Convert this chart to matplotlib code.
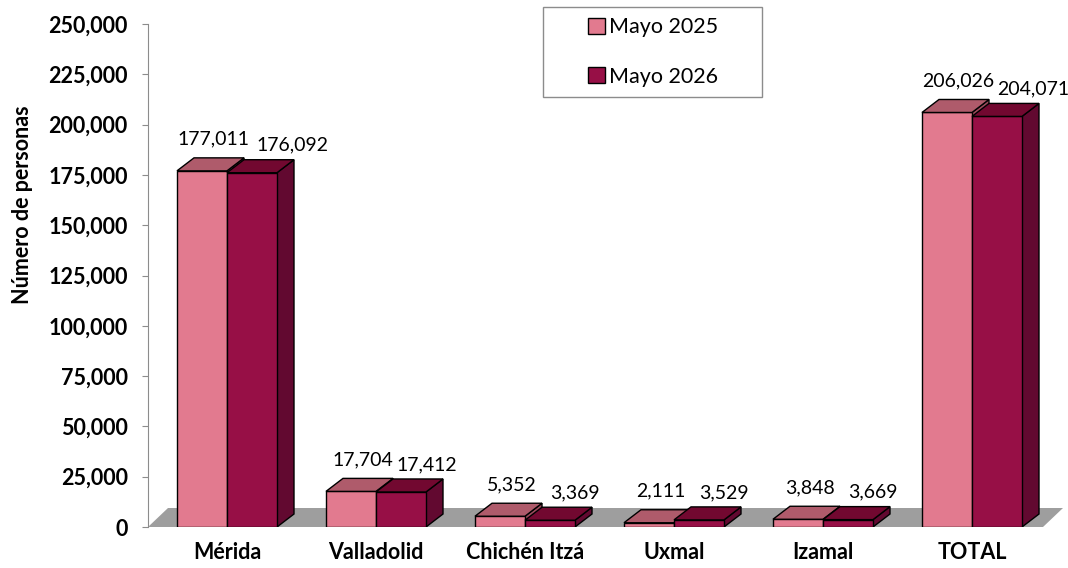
import matplotlib
matplotlib.use("Agg")
import matplotlib.pyplot as plt
from matplotlib.patches import Polygon, Patch, Rectangle
from matplotlib.ticker import FuncFormatter

# ----------------------------------------------------------------------
# Datos
# ----------------------------------------------------------------------
categorias = ["Mérida", "Valladolid", "Chichén Itzá", "Uxmal", "Izamal", "TOTAL"]
mayo_2025 = [177011, 17704, 5352, 2111, 3848, 206026]
mayo_2026 = [176092, 17412, 3369, 3529, 3669, 204071]
series = ["Mayo 2025", "Mayo 2026"]
yticks = list(range(0, 250001, 25000))

# colores (frente, tapa, lado)
COL_2025 = ("#E27A8F", "#AF5B6B", "#9C4A5C")
COL_2026 = ("#970F46", "#720830", "#620930")
COL_PISO = "#9E9E9E"

plt.rcParams["font.family"] = ["Lato", "DejaVu Sans"]

W, H = 1068, 568
fig = plt.figure(figsize=(W / 100, H / 100), dpi=100)
ax = fig.add_axes([148 / W, 1 - 527 / H, (W - 148) / W, (527 - 24) / H])

ppu_x = 149.0                     # px por categoría
ymax = 250000
ppu_y = (527 - 24) / ymax         # px por unidad
xmin, xmax = -79 / ppu_x, (W - 227) / ppu_x
ax.set_xlim(xmin, xmax)
ax.set_ylim(0, ymax)

w = 50 / ppu_x                    # ancho de cada barra
dx = 17 / ppu_x                   # profundidad 3D
dy = 13 / ppu_y

# piso gris
fdx, fdy = 20 / ppu_x, 19 / ppu_y
x0, x1 = xmin, (1043 - 227) / ppu_x
ax.add_patch(Polygon([(x0, 0), (x1, 0), (x1 + fdx, fdy), (x0 + fdx, fdy)],
                     closed=True, facecolor=COL_PISO, edgecolor="none", zorder=1))


def caja(xl, h, cols, z):
    front, top, side = cols
    ax.add_patch(Polygon([(xl + w, 0), (xl + w + dx, dy), (xl + w + dx, h + dy), (xl + w, h)],
                         closed=True, facecolor=side, edgecolor="black", lw=1.0, zorder=z))
    ax.bar(xl, h, width=w, align="edge", color=front, edgecolor="black", lw=1.0, zorder=z + 0.1)
    ax.add_patch(Polygon([(xl, h), (xl + w, h), (xl + w + dx, h + dy), (xl + dx, h + dy)],
                         closed=True, facecolor=top, edgecolor="black", lw=1.0, zorder=z + 0.2))


for i, (a, b) in enumerate(zip(mayo_2025, mayo_2026)):
    caja(i - w, a, COL_2025, 2)
    caja(i, b, COL_2026, 3)
    ax.annotate(f"{a:,}", (i - w / 2 + dx / 2, a + dy), xytext=(3, 10),
                textcoords="offset pixels", ha="center", va="bottom", fontsize=14, zorder=5)
    # etiqueta 2026 algo desplazada a la derecha (más cuanto más alta la barra)
    xb = i + w / 2 + dx / 2 + (16 + 23 * b / ymax) / ppu_x
    xb = min(xb, xmax - 35 / ppu_x)
    ax.annotate(f"{b:,}", (xb, b + dy), xytext=(0, 6),
                textcoords="offset pixels", ha="center", va="bottom", fontsize=14, zorder=5)

# ejes
for s in ["top", "right", "bottom"]:
    ax.spines[s].set_visible(False)
ax.spines["left"].set_color("#8C8C8C")
ax.set_yticks(yticks)
ax.yaxis.set_major_formatter(FuncFormatter(lambda v, p: f"{int(v):,}"))
ax.tick_params(axis="y", direction="out", length=4.5, color="#8C8C8C", pad=10,
               labelsize=15.5, labelcolor="black")
for t in ax.get_yticklabels():
    t.set_fontweight("bold")
ax.set_xticks(range(len(categorias)))
ax.set_xticklabels(categorias, fontsize=15.5, fontweight="bold")
ax.tick_params(axis="x", length=0, pad=11)
ax.set_ylabel("Número de personas", fontsize=15.5, fontweight="bold")
ax.yaxis.set_label_coords(-(148 - 33) / (W - 148), (527 - 205) / (527 - 24))

# leyenda
fig.patches.append(Rectangle((543 / W, 1 - 97 / H), (762 - 543) / W, 90 / H,
                             transform=fig.transFigure, facecolor="white",
                             edgecolor="#8C8C8C", lw=1.0, zorder=10))
handles = [Patch(facecolor=COL_2025[0], edgecolor="black"),
           Patch(facecolor=COL_2026[0], edgecolor="black")]
leg = fig.legend(handles, series, loc="center", bbox_to_anchor=(653 / W, 1 - 52 / H),
                 frameon=False, fontsize=15.5, handlelength=0.8, handleheight=0.8,
                 handletextpad=0.15, labelspacing=1.35)
leg.set_zorder(11)

fig.savefig("out.png", dpi=100)
